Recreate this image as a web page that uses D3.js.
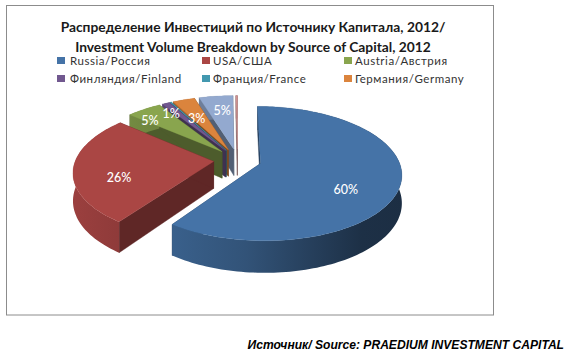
<!DOCTYPE html>
<html><head><meta charset="utf-8">
<script src="https://cdn.jsdelivr.net/npm/d3@7"></script>
<style>html,body{margin:0;padding:0;background:#fff}svg{display:block}</style>
</head><body><svg id="c" width="569" height="356"></svg>
<script>
const categories=["Russia/Россия","USA/США","Austria/Австрия","Финляндия/Finland","Франция/France","Германия/Germany","Другие","Прочие"];
const values=[59.8,26.5,4.7,1,0.2,3,4.6,0.2];
const labels=["60%","26%","5%","1%","","3%","5%",""];
const colors=["#4573a7","#aa4644","#89a54e","#71588f","#4298af","#db843d","#93a9cf","#d19392"];
const legendCount=6;
const titleLines=["Распределение Инвестиций  по Источнику Капитала, 2012/","Investment Volume Breakdown by Source of Capital, 2012"];
const sourceText="Источник/ Source: PRAEDIUM INVESTMENT CAPITAL";

const svg=d3.select("#c");
const defs=svg.append("defs");
svg.append("rect").attr("x",6.5).attr("y",5.5).attr("width",487).attr("height",309.5).attr("fill","#fff").attr("stroke","#8c8c8c").attr("stroke-width",1);

const cx=237.5,cy=160,R=138,k=0.468,persp=0.15,depth=27,explode=24;
const pie=d3.pie().value(d=>d).sort(null).startAngle(0).endAngle(2*Math.PI);
const arcs=pie(values);
function proj(X,Y,z){const w=1/(1-persp*Y/R);return [cx+X*w,cy+(Y*k+z)*w];}
function rim(a,o,z){return proj(o[0]+R*Math.sin(a),o[1]-R*Math.cos(a),z);}
const line=d3.line();
const slices=arcs.map((a,i)=>{const mid=(a.startAngle+a.endAngle)/2;
  return {a,i,mid,o:[explode*Math.sin(mid),-explode*Math.cos(mid)]};});
const order=slices.slice().sort((p,q)=>p.o[1]-q.o[1]);
function samples(a){const n=Math.max(2,Math.ceil((a.endAngle-a.startAngle)*40));
  return d3.range(n+1).map(j=>a.startAngle+(a.endAngle-a.startAngle)*j/n);}
order.forEach(s=>{
  const g=svg.append("g");
  const col=d3.color(colors[s.i]);
  const wall=d3.rgb(col.r*0.56,col.g*0.56,col.b*0.56).formatHex();
  const ang=samples(s.a);
  const apexT=proj(s.o[0],s.o[1],0),apexB=proj(s.o[0],s.o[1],depth);
  [s.a.startAngle,s.a.endAngle].forEach(t=>{
    g.append("path").attr("d",line([apexT,rim(t,s.o,0),rim(t,s.o,depth),apexB])+"Z").attr("fill",wall).attr("stroke",wall).attr("stroke-width",.4);
  });
  const top=ang.map(t=>rim(t,s.o,0));
  const bot=ang.map(t=>rim(t,s.o,depth)).reverse();
  const x0=cx+s.o[0]-R*1.05,x1=cx+s.o[0]+R*1.05;
  const id="g"+s.i;
  const lg=defs.append("linearGradient").attr("id",id).attr("gradientUnits","userSpaceOnUse").attr("x1",x0).attr("x2",x1).attr("y1",0).attr("y2",0);
  [[0,.92],[.45,.72],[.85,.42],[1,.4]].forEach(([o,f])=>lg.append("stop").attr("offset",o).attr("stop-color",d3.rgb(col.r*f,col.g*f,col.b*f).formatHex()));
  g.append("path").attr("d",line(top.concat(bot))+"Z").attr("fill","url(#"+id+")");
  g.append("path").attr("d",line([apexT].concat(top))+"Z").attr("fill",colors[s.i]).attr("stroke",colors[s.i]).attr("stroke-width",.3);
});
const labelPos=[[0.62,0,14],[0.62,-8,12],[0.82,-7,5],[0.9,0,6],[0,0,0],[0.78,4,9],[0.8,3,5],[0,0,0]];
slices.forEach(s=>{
  if(!labels[s.i])return;
  const [rr,dx,dy]=labelPos[s.i];
  const p=proj(s.o[0]+R*rr*Math.sin(s.mid),s.o[1]-R*rr*Math.cos(s.mid),0);
  svg.append("text").attr("x",p[0]+dx).attr("y",p[1]+dy+4).attr("text-anchor","middle")
   .attr("font-family","Lato, sans-serif").attr("font-size",12.5).attr("font-weight",500).attr("fill","#fff").text(labels[s.i]);
});
svg.selectAll(".t").data(titleLines).enter().append("text").attr("x",253).attr("y",(d,i)=>32+i*19.5)
 .attr("text-anchor","middle").attr("font-family","Lato, sans-serif").attr("font-weight",700).attr("font-size",13.8).attr("fill","#1a1a1a").text(d=>d);
const colX=[57,202,344];
categories.slice(0,legendCount).forEach((c,i)=>{
  const x=colX[i%3],y=61+Math.floor(i/3)*18;
  svg.append("rect").attr("x",x).attr("y",y-4).attr("width",8).attr("height",7).attr("fill",colors[i]);
  svg.append("text").attr("x",x+13-(i%3?2:0)).attr("y",y+4).attr("font-family","Lato, sans-serif").attr("letter-spacing",0.55).attr("font-size",11.5).attr("fill","#333").text(c);
});
svg.append("text").attr("x",564).attr("y",349).attr("text-anchor","end").attr("font-family","Liberation Sans, sans-serif").attr("font-weight",700).attr("font-style","italic").attr("font-size",12.1).attr("fill","#000").text(sourceText);
</script></body></html>
